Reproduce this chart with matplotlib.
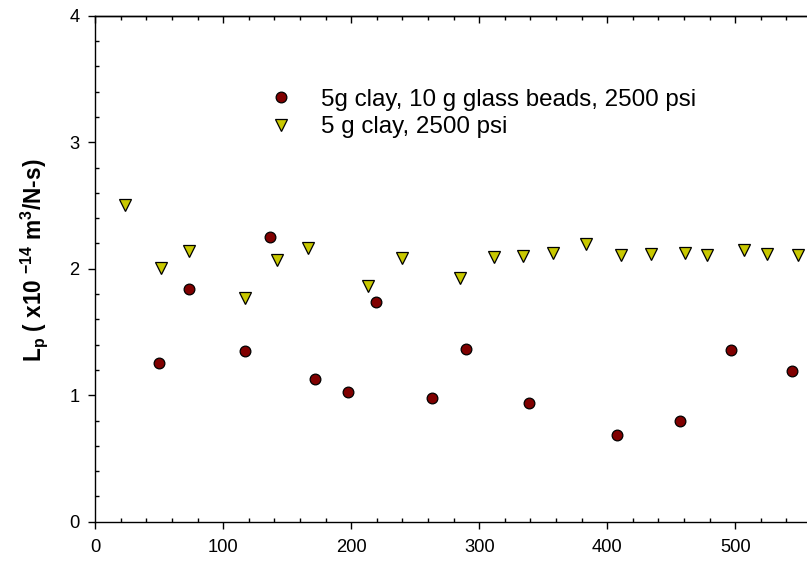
import matplotlib
matplotlib.use("Agg")
import matplotlib.pyplot as plt
from matplotlib.ticker import MultipleLocator

plt.rcParams['font.family'] = ['Liberation Sans', 'DejaVu Sans']
plt.rcParams['mathtext.fontset'] = 'custom'
plt.rcParams['mathtext.rm'] = 'Liberation Sans'
plt.rcParams['mathtext.bf'] = 'Liberation Sans:bold'

# 5g clay + 10 g glass beads, 2500 psi
x_beads = [49.5, 72.9, 116.7, 136.2, 171.6, 197.4, 219.5, 263.0, 289.3,
           338.8, 408.0, 456.5, 496.6, 544.0]
lp_beads = [1.257, 1.837, 1.352, 2.253, 1.126, 1.025, 1.739, 0.980, 1.363,
            0.941, 0.688, 0.796, 1.357, 1.194]

# 5 g clay, 2500 psi
x_clay = [23.4, 51.6, 73.2, 117.2, 142.0, 165.9, 213.5, 239.6, 285.2, 311.2,
          333.9, 357.6, 383.1, 410.4, 434.1, 461.0, 477.9, 506.5, 525.0, 548.7]
lp_clay = [2.50, 2.008, 2.14, 1.77, 2.07, 2.161, 1.866, 2.082, 1.924, 2.09,
           2.103, 2.122, 2.195, 2.108, 2.114, 2.122, 2.111, 2.148, 2.116, 2.111]

W, H = 807, 563
fig = plt.figure(figsize=(W / 100, H / 100), dpi=100)

x0, y0, y1 = 95.2, 521.7, 15.7
xmax = 557
ax = fig.add_axes([x0 / W, (H - y0) / H, xmax * 1.28 / W, (y0 - y1) / H])

ax.plot(x_beads, lp_beads, 'o', ms=7.7, mfc='#800000', mec='black', mew=0.9,
        label='5g clay, 10 g glass beads, 2500 psi', zorder=3, clip_on=False)
ax.plot(x_clay, lp_clay, 'v', ms=9, mfc='#c8c800', mec='black', mew=0.9,
        label='5 g clay, 2500 psi', zorder=3, clip_on=False)

ax.set_xlim(0, xmax)
ax.set_ylim(0, 4)
ax.xaxis.set_major_locator(MultipleLocator(100))
ax.xaxis.set_minor_locator(MultipleLocator(20))
ax.yaxis.set_major_locator(MultipleLocator(1))
ax.yaxis.set_minor_locator(MultipleLocator(0.2))

ax.spines['right'].set_visible(False)
for s in ax.spines.values():
    s.set_linewidth(1.0)

ax.tick_params(axis='both', which='major', direction='out', length=5.2,
               width=1.0, labelsize=13.2)
ax.tick_params(axis='both', which='minor', direction='in', length=3.1,
               width=1.0)
ax.tick_params(axis='x', which='major', pad=7)
ax.tick_params(axis='y', which='major', pad=6)

# top axis: inward ticks only, no labels
top = ax.secondary_xaxis('top')
top.xaxis.set_major_locator(MultipleLocator(100))
top.xaxis.set_minor_locator(MultipleLocator(20))
top.tick_params(which='major', direction='in', length=5.2, width=1.0,
                labeltop=False)
top.tick_params(which='minor', direction='in', length=3.1, width=1.0)
top.spines['top'].set_linewidth(1.0)

ax.set_ylabel(r'$\mathbf{L_p}$ ( x10 $^{\mathbf{-14}}$ m$^{\mathbf{3}}$/N-s)',
              fontsize=16.3, fontweight='bold')
ax.yaxis.set_label_coords(-0.064, 0.516)

ax.legend(loc='center left', bbox_to_anchor=(268.9 / W, 1 - 113.5 / H),
          bbox_transform=fig.transFigure, frameon=False, fontsize=17.4,
          handlelength=1.0, handletextpad=1.15, borderpad=0,
          borderaxespad=0, labelspacing=0.22, numpoints=1)

fig.savefig('out.png', dpi=100)
